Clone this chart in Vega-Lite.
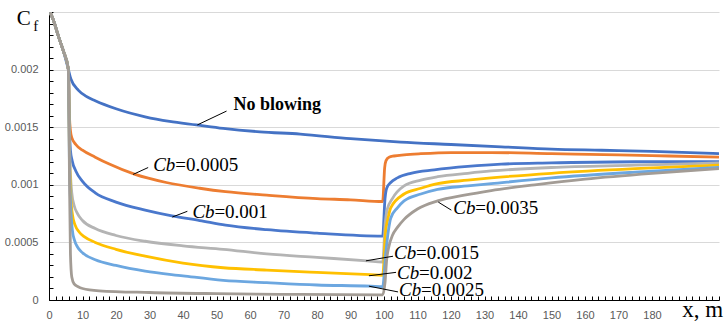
{
  "$schema": "https://vega.github.io/schema/vega-lite/v6.json",
  "width": 670,
  "height": 288,
  "autosize": "none",
  "padding": {"left": 49, "top": 12, "right": 7, "bottom": 25},
  "background": "white",
  "config": {"view": {"stroke": null}},
  "datasets": {
    "lines": [
      {"s":"No blowing","x":0.3,"y":0.0025},{"s":"No blowing","x":1.3,"y":0.00243},{"s":"No blowing","x":2.8,"y":0.00229},{"s":"No blowing","x":4.3,"y":0.00216},{"s":"No blowing","x":5.8,"y":0.002},
      {"s":"No blowing","x":6.5,"y":0.00192},{"s":"No blowing","x":8.8,"y":0.00182},{"s":"No blowing","x":11,"y":0.00177},{"s":"No blowing","x":13.8,"y":0.00173},{"s":"No blowing","x":20,"y":0.00166},{"s":"No blowing","x":28.7,"y":0.00159},{"s":"No blowing","x":36,"y":0.00155},{"s":"No blowing","x":44,"y":0.00152},{"s":"No blowing","x":52,"y":0.00149},{"s":"No blowing","x":63,"y":0.00146},{"s":"No blowing","x":75,"y":0.00144},{"s":"No blowing","x":90,"y":0.0014},{"s":"No blowing","x":105,"y":0.00137},{"s":"No blowing","x":120,"y":0.00135},{"s":"No blowing","x":135,"y":0.00133},{"s":"No blowing","x":150,"y":0.00131},{"s":"No blowing","x":165,"y":0.0013},{"s":"No blowing","x":180,"y":0.00129},{"s":"No blowing","x":200,"y":0.00127},

      {"s":"0.0005","x":0.3,"y":0.0025},{"s":"0.0005","x":1.3,"y":0.00243},{"s":"0.0005","x":2.8,"y":0.00229},{"s":"0.0005","x":4.3,"y":0.00216},{"s":"0.0005","x":5.8,"y":0.002},
      {"s":"0.0005","x":6.1,"y":0.0016},{"s":"0.0005","x":6.4,"y":0.00147},{"s":"0.0005","x":6.8,"y":0.00141},{"s":"0.0005","x":8,"y":0.00135},{"s":"0.0005","x":10,"y":0.0013},{"s":"0.0005","x":13.8,"y":0.00124},{"s":"0.0005","x":18,"y":0.00118},{"s":"0.0005","x":25.7,"y":0.00109},{"s":"0.0005","x":35,"y":0.00102},{"s":"0.0005","x":45,"y":0.00097},{"s":"0.0005","x":52.7,"y":0.00094},{"s":"0.0005","x":65,"y":0.00091},{"s":"0.0005","x":80,"y":0.00088},{"s":"0.0005","x":90,"y":0.00087},{"s":"0.0005","x":99.6,"y":0.000855},{"s":"0.0005","x":100.2,"y":0.00115},{"s":"0.0005","x":100.6,"y":0.00121},{"s":"0.0005","x":101.5,"y":0.00124},{"s":"0.0005","x":103,"y":0.00125},{"s":"0.0005","x":106,"y":0.00126},{"s":"0.0005","x":111,"y":0.00127},{"s":"0.0005","x":120,"y":0.00128},{"s":"0.0005","x":132,"y":0.00128},{"s":"0.0005","x":150,"y":0.00127},{"s":"0.0005","x":170,"y":0.00126},{"s":"0.0005","x":185,"y":0.00125},{"s":"0.0005","x":200,"y":0.00124},

      {"s":"0.001","x":0.3,"y":0.0025},{"s":"0.001","x":1.3,"y":0.00243},{"s":"0.001","x":2.8,"y":0.00229},{"s":"0.001","x":4.3,"y":0.00216},{"s":"0.001","x":5.8,"y":0.002},
      {"s":"0.001","x":6.1,"y":0.0015},{"s":"0.001","x":6.4,"y":0.0013},{"s":"0.001","x":6.9,"y":0.00121},{"s":"0.001","x":8,"y":0.00112},{"s":"0.001","x":10,"y":0.00103},{"s":"0.001","x":13.8,"y":0.00093},{"s":"0.001","x":20,"y":0.00085},{"s":"0.001","x":28.7,"y":0.00078},{"s":"0.001","x":36.7,"y":0.00073},{"s":"0.001","x":45,"y":0.00069},{"s":"0.001","x":52.7,"y":0.00065},{"s":"0.001","x":65,"y":0.00061},{"s":"0.001","x":80,"y":0.00058},{"s":"0.001","x":99.6,"y":0.000555},{"s":"0.001","x":100.3,"y":0.00088},{"s":"0.001","x":100.8,"y":0.00097},{"s":"0.001","x":102,"y":0.00102},{"s":"0.001","x":104,"y":0.00106},{"s":"0.001","x":108,"y":0.0011},{"s":"0.001","x":115,"y":0.00113},{"s":"0.001","x":125,"y":0.00116},{"s":"0.001","x":135,"y":0.00118},{"s":"0.001","x":150,"y":0.00119},{"s":"0.001","x":175,"y":0.0012},{"s":"0.001","x":200,"y":0.0012},

      {"s":"0.0015","x":0.3,"y":0.0025},{"s":"0.0015","x":1.3,"y":0.00243},{"s":"0.0015","x":2.8,"y":0.00229},{"s":"0.0015","x":4.3,"y":0.00216},{"s":"0.0015","x":5.8,"y":0.002},
      {"s":"0.0015","x":6.1,"y":0.0014},{"s":"0.0015","x":6.4,"y":0.0011},{"s":"0.0015","x":6.8,"y":0.00093},{"s":"0.0015","x":7.5,"y":0.00082},{"s":"0.0015","x":8.5,"y":0.00075},{"s":"0.0015","x":10,"y":0.00069},{"s":"0.0015","x":13.8,"y":0.00062},{"s":"0.0015","x":20,"y":0.00056},{"s":"0.0015","x":28.7,"y":0.00051},{"s":"0.0015","x":40,"y":0.00047},{"s":"0.0015","x":52,"y":0.00044},{"s":"0.0015","x":65,"y":0.0004},{"s":"0.0015","x":80,"y":0.00037},{"s":"0.0015","x":95,"y":0.00034},{"s":"0.0015","x":99.6,"y":0.00033},{"s":"0.0015","x":100.4,"y":0.00068},{"s":"0.0015","x":101,"y":0.00079},{"s":"0.0015","x":102.5,"y":0.00088},{"s":"0.0015","x":106,"y":0.00099},{"s":"0.0015","x":111,"y":0.00104},{"s":"0.0015","x":116,"y":0.00107},{"s":"0.0015","x":125,"y":0.0011},{"s":"0.0015","x":132,"y":0.00112},{"s":"0.0015","x":150,"y":0.00115},{"s":"0.0015","x":175,"y":0.00117},{"s":"0.0015","x":200,"y":0.00119},

      {"s":"0.002","x":0.3,"y":0.0025},{"s":"0.002","x":1.3,"y":0.00243},{"s":"0.002","x":2.8,"y":0.00229},{"s":"0.002","x":4.3,"y":0.00216},{"s":"0.002","x":5.8,"y":0.002},
      {"s":"0.002","x":6.1,"y":0.0013},{"s":"0.002","x":6.5,"y":0.0009},{"s":"0.002","x":7,"y":0.00074},{"s":"0.002","x":7.8,"y":0.00065},{"s":"0.002","x":9,"y":0.00059},{"s":"0.002","x":10.5,"y":0.00055},{"s":"0.002","x":13.8,"y":0.0005},{"s":"0.002","x":20,"y":0.00044},{"s":"0.002","x":28.7,"y":0.00038},{"s":"0.002","x":40,"y":0.00032},{"s":"0.002","x":52,"y":0.00028},{"s":"0.002","x":65,"y":0.00026},{"s":"0.002","x":80,"y":0.00024},{"s":"0.002","x":96,"y":0.00022},{"s":"0.002","x":99.6,"y":0.000215},{"s":"0.002","x":100.5,"y":0.0006},{"s":"0.002","x":101.2,"y":0.00071},{"s":"0.002","x":102,"y":0.0008},{"s":"0.002","x":106,"y":0.00092},{"s":"0.002","x":111,"y":0.00097},{"s":"0.002","x":116,"y":0.00101},{"s":"0.002","x":125,"y":0.00104},{"s":"0.002","x":132,"y":0.00106},{"s":"0.002","x":150,"y":0.0011},{"s":"0.002","x":175,"y":0.00114},{"s":"0.002","x":200,"y":0.00117},

      {"s":"0.0025","x":0.3,"y":0.0025},{"s":"0.0025","x":1.3,"y":0.00243},{"s":"0.0025","x":2.8,"y":0.00229},{"s":"0.0025","x":4.3,"y":0.00216},{"s":"0.0025","x":5.8,"y":0.002},
      {"s":"0.0025","x":6.1,"y":0.0012},{"s":"0.0025","x":6.5,"y":0.0008},{"s":"0.0025","x":7,"y":0.0006},{"s":"0.0025","x":7.6,"y":0.00052},{"s":"0.0025","x":8.5,"y":0.00046},{"s":"0.0025","x":10,"y":0.00041},{"s":"0.0025","x":13.8,"y":0.00035},{"s":"0.0025","x":20,"y":0.0003},{"s":"0.0025","x":28.7,"y":0.00025},{"s":"0.0025","x":40,"y":0.00021},{"s":"0.0025","x":52,"y":0.00017},{"s":"0.0025","x":65,"y":0.00015},{"s":"0.0025","x":80,"y":0.00013},{"s":"0.0025","x":96,"y":0.00012},{"s":"0.0025","x":99.6,"y":0.000115},{"s":"0.0025","x":100.5,"y":0.0004},{"s":"0.0025","x":101.3,"y":0.0006},{"s":"0.0025","x":102,"y":0.00071},{"s":"0.0025","x":104,"y":0.0008},{"s":"0.0025","x":106,"y":0.00086},{"s":"0.0025","x":111,"y":0.00092},{"s":"0.0025","x":116,"y":0.00096},{"s":"0.0025","x":125,"y":0.00099},{"s":"0.0025","x":132,"y":0.00101},{"s":"0.0025","x":150,"y":0.00106},{"s":"0.0025","x":175,"y":0.00111},{"s":"0.0025","x":200,"y":0.00115},

      {"s":"0.0035","x":0.3,"y":0.0025},{"s":"0.0035","x":1.3,"y":0.00243},{"s":"0.0035","x":2.8,"y":0.00229},{"s":"0.0035","x":4.3,"y":0.00216},{"s":"0.0035","x":5.8,"y":0.002},
      {"s":"0.0035","x":6.1,"y":0.0011},{"s":"0.0035","x":6.4,"y":0.0004},{"s":"0.0035","x":6.8,"y":0.0002},{"s":"0.0035","x":7.5,"y":0.00014},{"s":"0.0035","x":8.7,"y":0.000115},{"s":"0.0035","x":10,"y":0.0001},{"s":"0.0035","x":15,"y":0.00008},{"s":"0.0035","x":30,"y":0.000065},{"s":"0.0035","x":50,"y":0.000055},{"s":"0.0035","x":75,"y":0.000048},{"s":"0.0035","x":99.6,"y":0.000045},{"s":"0.0035","x":100.3,"y":0.00015},{"s":"0.0035","x":100.8,"y":0.00035},{"s":"0.0035","x":101.5,"y":0.00047},{"s":"0.0035","x":102.5,"y":0.00056},{"s":"0.0035","x":104,"y":0.00063},{"s":"0.0035","x":106,"y":0.0007},{"s":"0.0035","x":110,"y":0.00079},{"s":"0.0035","x":116,"y":0.00086},{"s":"0.0035","x":124,"y":0.00091},{"s":"0.0035","x":132,"y":0.00095},{"s":"0.0035","x":145,"y":0.001},{"s":"0.0035","x":160,"y":0.00105},{"s":"0.0035","x":180,"y":0.0011},{"s":"0.0035","x":200,"y":0.00114}
    ],
    "labels": [
      {"v":"=0.0005","x":31.1,"y":0.001175},
      {"v":"=0.001","x":42.8,"y":0.000766},
      {"v":"=0.0015","x":103,"y":0.000409},
      {"v":"=0.002","x":103.9,"y":0.000235},
      {"v":"=0.0025","x":104.5,"y":0.000087},
      {"v":"=0.0035","x":120.7,"y":0.0008}
    ],
    "pointers": [
      {"x":44.3,"y":0.00152,"x2":53,"y2":0.00164},
      {"x":25.1,"y":0.00109,"x2":29.6,"y2":0.00115},
      {"x":36.8,"y":0.00072,"x2":41.3,"y2":0.00077},
      {"x":94.6,"y":0.00034,"x2":102.7,"y2":0.00038},
      {"x":95.5,"y":0.00021,"x2":103.6,"y2":0.00024},
      {"x":95.5,"y":0.00012,"x2":104.2,"y2":0.00007},
      {"x":116.2,"y":0.00085,"x2":120.1,"y2":0.00078}
    ],
    "titles": [
      {"t":"No blowing","x":55.1,"y":0.00169}
    ]
  },
  "encoding": {
    "x": {"field": "x", "type": "quantitative",
      "scale": {"domain": [0, 200], "nice": false, "zero": false},
      "axis": {
        "title": null,
        "values": [0,2,4,6,8,10,12,14,16,18,20,22,24,26,28,30,32,34,36,38,40,42,44,46,48,50,52,54,56,58,60,62,64,66,68,70,72,74,76,78,80,82,84,86,88,90,92,94,96,98,100,102,104,106,108,110,112,114,116,118,120,122,124,126,128,130,132,134,136,138,140,142,144,146,148,150,152,154,156,158,160,162,164,166,168,170,172,174,176,178,180,182,184,186,188,190,192,194,196,198,200],
        "labelExpr": "(datum.value % 10 == 0 && datum.value <= 180) ? datum.label : ''",
        "grid": false,
        "tickSize": -4,
        "tickColor": "#000000",
        "domainColor": "#000000",
        "labelColor": "#595959",
        "labelFont": "Liberation Sans",
        "labelFontSize": 11,
        "labelPadding": 13,
        "labelFlush": false,
        "labelOverlap": false
      }
    },
    "y": {"field": "y", "type": "quantitative",
      "scale": {"domain": [0, 0.0025], "nice": false, "zero": false},
      "axis": {
        "title": null,
        "values": [0,0.0001,0.0002,0.0003,0.0004,0.0005,0.0006,0.0007,0.0008,0.0009,0.001,0.0011,0.0012,0.0013,0.0014,0.0015,0.0016,0.0017,0.0018,0.0019,0.002,0.0021,0.0022,0.0023,0.0024,0.0025],
        "labelExpr": "(round(datum.value*10000) % 5 == 0 && datum.value < 0.0024) ? toString(round(datum.value*10000)/10000) : ''",
        "grid": true,
        "gridColor": "#D9D9D9",
        "gridOpacity": {"condition": {"test": "round(datum.value*10000) % 5 == 0", "value": 1}, "value": 0},
        "tickSize": -4,
        "tickColor": "#000000",
        "domainColor": "#000000",
        "labelColor": "#595959",
        "labelFont": "Liberation Sans",
        "labelFontSize": 11,
        "labelPadding": 15,
        "labelOverlap": false
      }
    }
  },
  "layer": [
    {
      "data": {"name": "lines"},
      "mark": {"type": "line", "strokeWidth": 2.8, "interpolate": "monotone", "clip": true},
      "encoding": {
        "color": {"field": "s", "type": "nominal", "legend": null,
          "scale": {"domain": ["No blowing","0.0005","0.001","0.0015","0.002","0.0025","0.0035"],
                    "range": ["#4472C4","#ED7D31","#4A78CC","#B4B4B4","#FFC000","#6CA7E0","#A39C95"]}},
        "order": {"field": "x", "type": "quantitative"}
      }
    },
    {
      "data": {"name": "pointers"},
      "mark": {"type": "rule", "color": "#000000", "strokeWidth": 1},
      "encoding": {
        "x2": {"field": "x2"},
        "y2": {"field": "y2"}
      }
    },
    {
      "data": {"name": "labels"},
      "mark": {"type": "text", "align": "left", "baseline": "middle", "font": "Liberation Serif", "fontSize": 19, "fontStyle": "italic", "color": "#000000"},
      "encoding": {
        "text": {"value": "Cb"}
      }
    },
    {
      "data": {"name": "labels"},
      "mark": {"type": "text", "align": "left", "baseline": "middle", "font": "Liberation Serif", "fontSize": 19, "dx": 22, "color": "#000000"},
      "encoding": {
        "text": {"field": "v"}
      }
    },
    {
      "data": {"name": "titles"},
      "mark": {"type": "text", "align": "left", "baseline": "middle", "font": "Liberation Serif", "fontSize": 18, "fontWeight": "bold", "color": "#000000"},
      "encoding": {
        "text": {"field": "t"}
      }
    },
    {
      "data": {"values": [{"t":"C","x":-9.6,"y":0.00239}]},
      "mark": {"type": "text", "align": "left", "baseline": "alphabetic", "font": "Liberation Serif", "fontSize": 21, "color": "#000000"},
      "encoding": {"text": {"field": "t"}}
    },
    {
      "data": {"values": [{"t":"f","x":-4.7,"y":0.002335}]},
      "mark": {"type": "text", "align": "left", "baseline": "alphabetic", "font": "Liberation Serif", "fontSize": 15, "color": "#000000"},
      "encoding": {"text": {"field": "t"}}
    },
    {
      "data": {"values": [{"t":"x, m","x":189,"y":-0.00015}]},
      "mark": {"type": "text", "align": "left", "baseline": "alphabetic", "font": "Liberation Serif", "fontSize": 23, "color": "#000000"},
      "encoding": {"text": {"field": "t"}}
    }
  ]
}
